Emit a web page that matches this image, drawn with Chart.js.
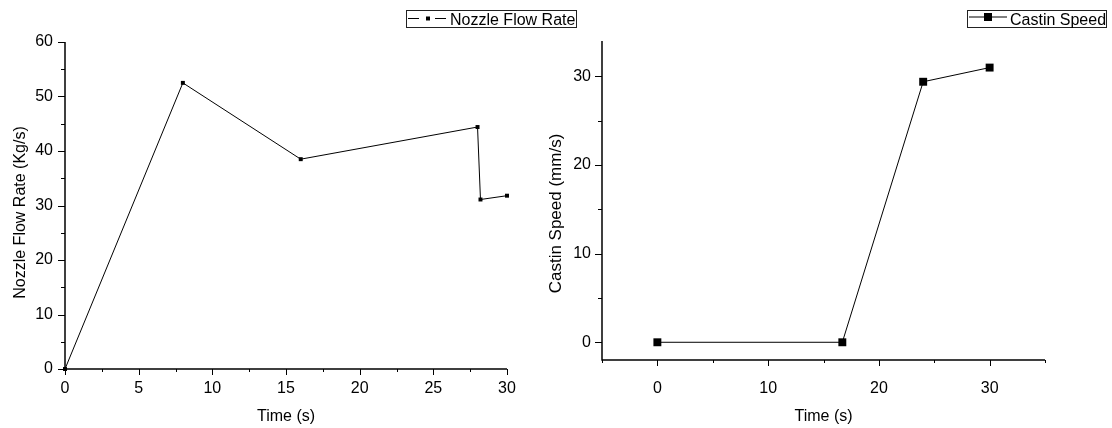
<!DOCTYPE html>
<html>
<head>
<meta charset="utf-8">
<script src="https://cdn.jsdelivr.net/npm/chart.js@4/dist/chart.umd.min.js"></script>
<style>
  html, body { margin: 0; padding: 0; background: #fff; }
  body { width: 1112px; height: 428px; position: relative; overflow: hidden; }
  canvas { position: absolute; top: 0; }
  #flow { left: 0; }
  #speed { left: 530px; }
</style>
</head>
<body>
<canvas id="flow" width="590" height="428"></canvas>
<canvas id="speed" width="582" height="428"></canvas>
<script>
// Nozzle flow rate (Kg/s) against time (s)
const flowTime = [0, 8, 16, 28, 28.2, 30];
const flowRate = [0, 52.5, 38.5, 44.4, 31.1, 31.8];

// Casting speed (mm/s) against time (s)
const speedTime = [0, 16.7, 24, 30];
const castSpeed = [0, 0, 29.4, 31];

// Labelled (major) ticks and unlabelled (minor) ticks
const flowXTicks = [0, 5, 10, 15, 20, 25, 30];
const flowXMinor = [2.5, 7.5, 12.5, 17.5, 22.5, 27.5];
const flowYTicks = [0, 10, 20, 30, 40, 50, 60];
const flowYMinor = [5, 15, 25, 35, 45, 55];
const speedXTicks = [0, 10, 20, 30];
const speedXMinor = [-5, 5, 15, 25, 35];
const speedYTicks = [0, 10, 20, 30];
const speedYMinor = [5, 15, 25];

const FONT = "'Liberation Sans', Arial, Helvetica, sans-serif";

// Draws axis lines, tick marks, axis titles and the boxed legend
const axisDecor = {
  id: 'axisDecor',
  afterDraw(chart, args, o) {
    const ctx = chart.ctx;
    const area = chart.chartArea;
    const sx = chart.scales.x, sy = chart.scales.y;
    ctx.save();
    ctx.strokeStyle = '#000';
    ctx.fillStyle = '#000';

    // axis lines
    ctx.lineWidth = 1.5;
    ctx.beginPath();
    ctx.moveTo(area.left, area.top);
    ctx.lineTo(area.left, area.bottom);
    ctx.lineTo(area.right, area.bottom);
    ctx.stroke();

    // tick marks, pointing outwards
    ctx.lineWidth = 1;
    const xTick = (v, len) => {
      const px = Math.round(sx.getPixelForValue(v)) + 0.5;
      ctx.beginPath(); ctx.moveTo(px, area.bottom); ctx.lineTo(px, area.bottom + len); ctx.stroke();
    };
    const yTick = (v, len) => {
      const py = Math.round(sy.getPixelForValue(v)) + 0.5;
      ctx.beginPath(); ctx.moveTo(area.left, py); ctx.lineTo(area.left - len, py); ctx.stroke();
    };
    o.xMajor.forEach(v => xTick(v, 6));
    o.xMinor.forEach(v => xTick(v, 3));
    o.yMajor.forEach(v => yTick(v, 7));
    o.yMinor.forEach(v => yTick(v, 4));

    // axis titles
    ctx.textAlign = 'center';
    ctx.textBaseline = 'middle';
    ctx.font = '16px ' + FONT;
    ctx.fillText(o.xTitle, (area.left + area.right) / 2, o.xTitleY);
    ctx.save();
    ctx.translate(o.yTitleX, o.yTitleY);
    ctx.rotate(-Math.PI / 2);
    ctx.font = o.yTitleSize + 'px ' + FONT;
    ctx.fillText(o.yTitle, 0, 0);
    ctx.restore();

    // legend
    const lg = o.legend;
    ctx.lineWidth = 1;
    ctx.strokeStyle = '#222';
    ctx.strokeRect(lg.box[0], lg.box[1], lg.box[2], lg.box[3]);
    ctx.strokeStyle = '#000';
    ctx.beginPath();
    lg.segments.forEach(s => { ctx.moveTo(s[0], lg.symbolY); ctx.lineTo(s[1], lg.symbolY); });
    ctx.stroke();
    const h = lg.marker / 2;
    ctx.fillRect(lg.markerX - h, lg.symbolY - h, lg.marker, lg.marker);
    ctx.textAlign = 'left';
    ctx.textBaseline = 'alphabetic';
    ctx.font = lg.fontSize + 'px ' + FONT;
    ctx.fillText(lg.label, lg.textX, lg.textY);
    ctx.restore();
  }
};

function fixedTicks(list) {
  return scale => { scale.ticks = list.map(v => ({ value: v })); };
}

function makeChart(id, cfg) {
  return new Chart(document.getElementById(id), {
    type: 'line',
    data: {
      datasets: [{
        label: cfg.label,
        data: cfg.xs.map((x, i) => ({ x: x, y: cfg.ys[i] })),
        borderColor: '#000',
        borderWidth: 1,
        tension: 0,
        pointStyle: 'rect',
        pointRadius: cfg.pointRadius,
        pointBorderWidth: 0,
        pointBackgroundColor: '#000',
        clip: false
      }]
    },
    options: {
      responsive: false,
      animation: false,
      devicePixelRatio: 1,
      layout: { padding: cfg.padding },
      plugins: {
        legend: { display: false },
        tooltip: { enabled: false },
        axisDecor: cfg.decor
      },
      scales: {
        x: {
          type: 'linear',
          min: cfg.xMin, max: cfg.xMax,
          afterBuildTicks: fixedTicks(cfg.xTicks),
          afterFit: s => { s.height = cfg.xHeight; },
          grid: { display: false, drawTicks: false, tickLength: 0 },
          border: { display: false },
          ticks: {
            color: '#000', padding: cfg.xPad, maxRotation: 0, autoSkip: false,
            font: { family: FONT, size: 16 }
          }
        },
        y: {
          type: 'linear',
          min: cfg.yMin, max: cfg.yMax,
          afterBuildTicks: fixedTicks(cfg.yTicks),
          afterFit: s => { s.width = cfg.yWidth; },
          grid: { display: false, drawTicks: false, tickLength: 0 },
          border: { display: false },
          ticks: {
            color: '#000', padding: cfg.yPad, autoSkip: false,
            font: { family: FONT, size: 16 }
          }
        }
      }
    },
    plugins: [axisDecor]
  });
}

makeChart('flow', {
  label: 'Nozzle Flow Rate',
  xs: flowTime, ys: flowRate,
  pointRadius: 2.8,
  padding: { top: 42, right: 83, left: 0, bottom: 0 },
  xMin: 0, xMax: 30, yMin: 0, yMax: 60,
  xTicks: flowXTicks, yTicks: flowYTicks,
  xHeight: 59, yWidth: 65, xPad: 10, yPad: 12,
  decor: {
    xMajor: flowXTicks, xMinor: flowXMinor, yMajor: flowYTicks, yMinor: flowYMinor,
    xTitle: 'Time (s)', xTitleY: 417,
    yTitle: 'Nozzle Flow Rate (Kg/s)', yTitleX: 21, yTitleY: 212.5, yTitleSize: 16,
    legend: {
      box: [406.5, 10.5, 170, 17],
      segments: [[408, 419], [435, 446]],
      symbolY: 18.5, markerX: 428, marker: 4,
      label: 'Nozzle Flow Rate', textX: 450, textY: 25, fontSize: 16
    }
  }
});

makeChart('speed', {
  label: 'Castin Speed',
  xs: speedTime, ys: castSpeed,
  pointRadius: 5.6,
  padding: { top: 41, right: 67, left: 0, bottom: 0 },
  xMin: -5, xMax: 35, yMin: -2, yMax: 34,
  xTicks: speedXTicks, yTicks: speedYTicks,
  xHeight: 68, yWidth: 72, xPad: 19, yPad: 11,
  decor: {
    xMajor: speedXTicks, xMinor: speedXMinor, yMajor: speedYTicks, yMinor: speedYMinor,
    xTitle: 'Time (s)', xTitleY: 417,
    yTitle: 'Castin Speed (mm/s)', yTitleX: 26.7, yTitleY: 213.5, yTitleSize: 17,
    legend: {
      box: [437.5, 10.5, 139, 17],
      segments: [[439, 477]],
      symbolY: 17, markerX: 458, marker: 8,
      label: 'Castin Speed', textX: 480, textY: 25, fontSize: 16
    }
  }
});
</script>
</body>
</html>
